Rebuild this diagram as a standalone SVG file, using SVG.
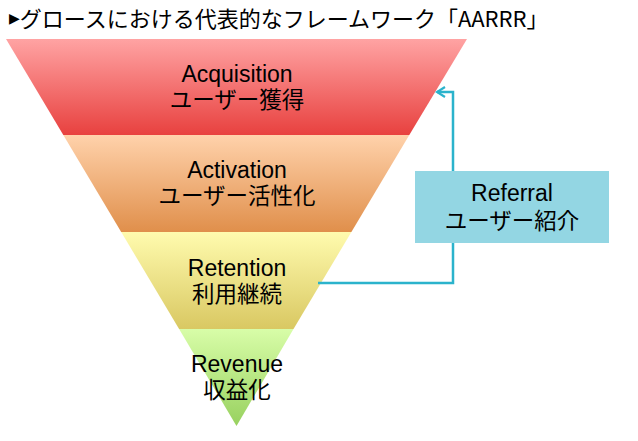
<svg xmlns="http://www.w3.org/2000/svg" width="638" height="441" viewBox="0 0 638 441">
<defs>
<linearGradient id="gAcq" x1="0" y1="0" x2="0" y2="1"><stop offset="0" stop-color="#ffa3a3"/><stop offset="1" stop-color="#e8413f"/></linearGradient>
<linearGradient id="gAct" x1="0" y1="0" x2="0" y2="1"><stop offset="0" stop-color="#ffd2ab"/><stop offset="1" stop-color="#e08f4b"/></linearGradient>
<linearGradient id="gRet" x1="0" y1="0" x2="0" y2="1"><stop offset="0" stop-color="#fffbae"/><stop offset="1" stop-color="#d9c862"/></linearGradient>
<linearGradient id="gRev" x1="0" y1="0" x2="0" y2="1"><stop offset="0" stop-color="#d8fda8"/><stop offset="1" stop-color="#98d15f"/></linearGradient>
<marker id="arr" markerWidth="12" markerHeight="12" refX="10" refY="6" orient="auto" markerUnits="userSpaceOnUse"><path d="M2,1 L10,6 L2,11" fill="none" stroke="#2bb3cc" stroke-width="2.2"/></marker>
</defs>
<style>
.t{font-family:"Liberation Sans","Noto Sans CJK JP",sans-serif;font-size:23px;fill:#000;text-anchor:middle}
.j{font-family:"Noto Sans CJK JP","Liberation Sans",sans-serif;font-size:22.5px}
.title{font-family:"Noto Sans CJK JP","Liberation Sans",sans-serif;font-size:22px;fill:#000}
.tri{font-family:"DejaVu Sans",sans-serif;font-size:14px}
.conn{fill:none;stroke:#2bb3cc;stroke-width:2.5}
</style>
<rect width="638" height="441" fill="#fff"/>
<text class="title" x="9" y="27"><tspan class="tri" dy="-4">▶</tspan><tspan dy="4">グロースにおける代表的なフレームワーク「AARRR」</tspan></text>
<g id="acquisition">
<polygon points="6,39 467,39 409.3,135 63.3,135" fill="url(#gAcq)"/>
<text class="t" x="237" y="82">Acquisition<tspan class="j" x="237" dy="26">ユーザー獲得</tspan></text>
</g>
<g id="activation">
<polygon points="63.3,135 409.3,135 351.4,232 121.2,232" fill="url(#gAct)"/>
<text class="t" x="237" y="178">Activation<tspan class="j" x="237" dy="26">ユーザー活性化</tspan></text>
</g>
<g id="retention">
<polygon points="121.2,232 351.4,232 293.5,329 179.1,329" fill="url(#gRet)"/>
<text class="t" x="237" y="276">Retention<tspan class="j" x="237" dy="26">利用継続</tspan></text>
</g>
<g id="revenue">
<polygon points="179.1,329 293.5,329 236.5,426" fill="url(#gRev)"/>
<text class="t" x="237" y="372">Revenue<tspan class="j" x="237" dy="26">収益化</tspan></text>
</g>
<g id="connectors">
<polyline class="conn" points="318,283 453,283 453,92 437,92" marker-end="url(#arr)"/>
</g>
<g id="referral">
<rect x="415" y="171" width="194" height="72" fill="#93d6e3"/>
<text class="t" x="512" y="201">Referral<tspan class="j" x="512" dy="28">ユーザー紹介</tspan></text>
</g>
</svg>
